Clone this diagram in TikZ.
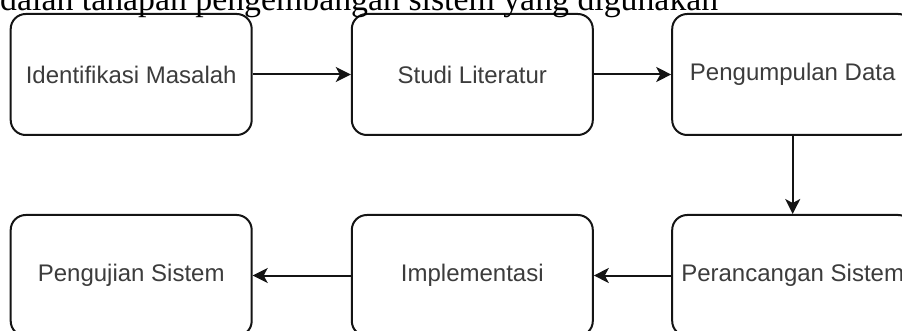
\documentclass[tikz,border=0pt]{standalone}
\usepackage{fontspec}
\setmainfont{Liberation Serif}
\newfontfamily\boxfont{Liberation Sans}
\usetikzlibrary{arrows.meta}
\definecolor{txt}{RGB}{60,60,60}
\definecolor{ln}{RGB}{20,20,20}
\begin{document}
\begin{tikzpicture}[x=1pt,y=-1pt,
  stepbox/.style={draw=ln, line width=2pt, fill=white, rounded corners=15pt,
    minimum width=241pt, minimum height=121pt, inner sep=0pt,
    font=\boxfont\fontsize{24}{28}\selectfont, text=txt},
  conn/.style={draw=ln, line width=2pt, -{Stealth[length=15pt,width=15pt,inset=4pt]}}]
\useasboundingbox (0,0) rectangle (902,331);
\clip (0,0) rectangle (902,331);
\node[stepbox] (b1) at (131.2,74.5) {Identifikasi Masalah};
\node[stepbox] (b2) at (472.3,74.5) {Studi Literatur};
\node[stepbox] (b3) at (792.7,74.5) {Pengumpulan Data};
\node[stepbox] (b4) at (792.7,275.5) {Perancangan Sistem};
\node[stepbox] (b5) at (472.3,275.5) {Implementasi};
\node[stepbox] (b6) at (131.2,275.5) {Pengujian Sistem};
\draw[conn] (b1.east) -- (b2.west);
\draw[conn] (b2.east) -- (b3.west);
\draw[conn] (b3.south) -- (b4.north);
\draw[conn] (b4.west) -- (b5.east);
\draw[conn] (b5.west) -- (b6.east);
\node[anchor=base west, inner sep=0pt, font=\fontsize{33.8}{40}\selectfont] (title) at (0,11) {dalah tahapan pengembangan sistem yang digunakan};
\end{tikzpicture}
\end{document}
